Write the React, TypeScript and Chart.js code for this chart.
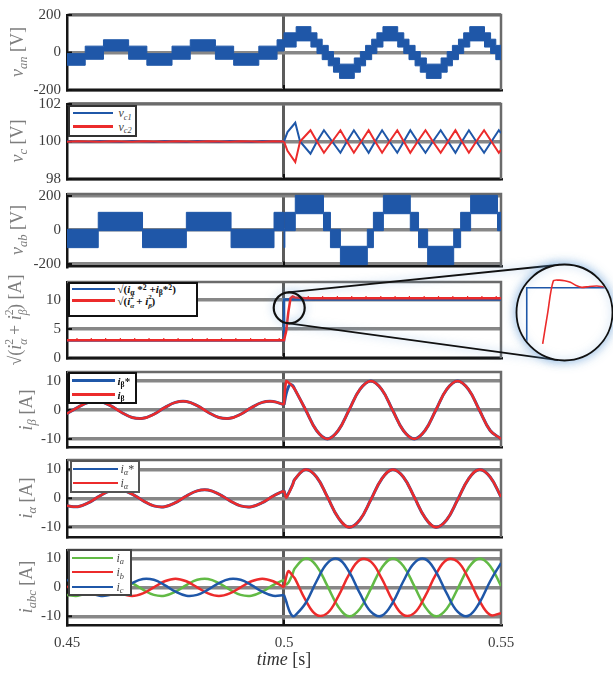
import React, { useEffect, useRef } from 'react';
import { Chart, registerables } from 'chart.js';
Chart.register(...registerables);

const W = 613;
const H = 675;
const PLOT_LEFT = 67;
const PLOT_RIGHT = 501;
const X_AXIS_H = 36;
const SERIF = "'Liberation Serif', 'DejaVu Serif', serif";
const BLUE = '#1f57a8';
const RED = '#ec2b2b';
const GREEN = '#62ba45';
const GRID = '#878787';
const TICK_COLOR = '#3c3c3c';

// ---------- x axis ----------
const X_TICKS = [0.45, 0.5, 0.55];
const X_TICK_LABELS = ['0.45', '0.5', '0.55'];

// ---------- common time bases ----------
const T_PRE = [0.45, 0.4525, 0.455, 0.4575, 0.46, 0.4625, 0.465, 0.4675, 0.47, 0.4725, 0.475, 0.4775, 0.48, 0.4825, 0.485, 0.4875, 0.49, 0.4925, 0.495, 0.4975, 0.5];
const T_POST = [0.5, 0.5005, 0.501, 0.5015, 0.502, 0.5025, 0.505, 0.5075, 0.51, 0.5125, 0.515, 0.5175, 0.52, 0.5225, 0.525, 0.5275, 0.53, 0.5325, 0.535, 0.5375, 0.54, 0.5425, 0.545, 0.5475, 0.55];

// ---------- v_an (switching band: upper / lower envelope) ----------
const V_AN_T = [0.45, 0.4542, 0.4584, 0.4642, 0.4684, 0.4742, 0.4784, 0.4842, 0.4884, 0.4942, 0.4984, 0.5, 0.5028, 0.5062, 0.5076, 0.5088, 0.5102, 0.5114, 0.5128, 0.5162, 0.5176, 0.5188, 0.5202, 0.5214, 0.5228, 0.5262, 0.5276, 0.5288, 0.5302, 0.5314, 0.5328, 0.5362, 0.5376, 0.5388, 0.5402, 0.5414, 0.5428, 0.5462, 0.5476, 0.5488, 0.55];
const V_AN_HI = [-6, 34, 68, 34, -6, 34, 68, 34, -6, 34, 68, 105, 138, 105, 71, 38, 5, -29, -62, -29, 5, 38, 71, 105, 138, 105, 71, 38, 5, -29, -62, -29, 5, 38, 71, 105, 138, 105, 71, 38, 38];
const V_AN_LO = [-68, -36, 8, -36, -68, -36, 8, -36, -68, -36, 8, 29, 62, 29, -5, -38, -71, -105, -138, -105, -71, -38, -5, 29, 62, 29, -5, -38, -71, -105, -138, -105, -71, -38, -5, 29, 62, 29, -5, -38, -38];

// ---------- v_c ----------
const V_C1_PRE = [100.02, 100.0, 99.98, 100.02, 100.0, 99.98, 100.02, 100.0, 99.98, 100.02, 100.0, 99.98, 100.02, 100.0, 99.98, 100.02, 100.0, 99.98, 100.02, 100.0, 100.0];
const V_C2_PRE = [99.99, 100.01, 100.0, 99.99, 100.01, 100.0, 99.99, 100.01, 100.0, 99.99, 100.01, 100.0, 99.99, 100.01, 100.0, 99.99, 100.01, 100.0, 99.99, 100.01, 100.0];
const T_VC_POST = [0.5, 0.5008, 0.5026, 0.5037, 0.5061, 0.5076, 0.5092, 0.5111, 0.513, 0.5145, 0.5161, 0.5178, 0.5195, 0.521, 0.5226, 0.5243, 0.5261, 0.5276, 0.5291, 0.5308, 0.5326, 0.5343, 0.5361, 0.5378, 0.5395, 0.541, 0.5426, 0.5443, 0.5461, 0.5478, 0.5495, 0.55];
const V_C1_POST = [100, 100.5, 101.0, 100.0, 99.35, 100.0, 100.6, 100.0, 99.4, 100.0, 100.6, 100.0, 99.4, 100.0, 100.6, 100.0, 99.4, 100.0, 100.6, 100.0, 99.4, 100.0, 100.6, 100.0, 99.4, 100.0, 100.6, 100.0, 99.4, 100.0, 100.6, 100.45];
const V_C2_POST = [100, 99.5, 98.9, 100.0, 100.6, 100.0, 99.4, 100.0, 100.6, 100.0, 99.4, 100.0, 100.6, 100.0, 99.4, 100.0, 100.6, 100.0, 99.4, 100.0, 100.6, 100.0, 99.4, 100.0, 100.6, 100.0, 99.4, 100.0, 100.6, 100.0, 99.4, 99.55];

// ---------- v_ab (switching band) ----------
const V_AB_T = [0.45, 0.4572, 0.4674, 0.4775, 0.4878, 0.4977, 0.5, 0.5002, 0.5026, 0.5091, 0.5107, 0.513, 0.5192, 0.5206, 0.5229, 0.5291, 0.531, 0.5331, 0.5391, 0.5407, 0.543, 0.5492, 0.55];
const V_AB_HI = [4, 104, 4, 104, 4, 104, 4, 104, 204, 104, 4, -96, 4, 104, 204, 104, 4, -96, 4, 104, 204, 104, 104];
const V_AB_LO = [-104, -4, -104, -4, -104, -4, -104, -4, 96, -4, -104, -204, -104, -4, 96, -4, -104, -204, -104, -4, 96, -4, -4];

// ---------- current magnitude ----------
const SQRT_REF_PRE = [3.0, 3.0, 3.0, 3.0, 3.0, 3.0, 3.0, 3.0, 3.0, 3.0, 3.0, 3.0, 3.0, 3.0, 3.0, 3.0, 3.0, 3.0, 3.0, 3.0, 3.0];
const SQRT_REF_POST = [10.1, 10.1, 10.1, 10.1, 10.1, 10.1, 10.1, 10.1, 10.1, 10.1, 10.1, 10.1, 10.1, 10.1, 10.1, 10.1, 10.1, 10.1, 10.1, 10.1, 10.1, 10.1, 10.1, 10.1, 10.1];
const SQRT_MEAS_PRE = [3.05, 3.05, 3.06, 3.05, 3.05, 3.06, 3.05, 3.05, 3.06, 3.05, 3.05, 3.06, 3.05, 3.05, 3.06, 3.05, 3.05, 3.06, 3.05, 3.05, 3.05];
const SQRT_MEAS_POST = [3.05, 4.6, 7.9, 10.3, 10.6, 10.45, 10.3, 10.3, 10.32, 10.3, 10.3, 10.32, 10.3, 10.3, 10.32, 10.3, 10.3, 10.32, 10.3, 10.3, 10.32, 10.3, 10.3, 10.32, 10.3];
// small 300 Hz ripple peaks on the measured magnitude
const SQRT_RIPPLE_T = [0.4523, 0.4556, 0.4589, 0.4623, 0.4656, 0.4689, 0.4723, 0.4756, 0.4789, 0.4823, 0.4856, 0.4889, 0.4923, 0.4956, 0.4989, 0.5056, 0.5089, 0.5123, 0.5156, 0.5189, 0.5223, 0.5256, 0.5289, 0.5323, 0.5356, 0.5389, 0.5423, 0.5456, 0.5489];
const SQRT_RIPPLE_V = [3.2, 3.2, 3.2, 3.2, 3.2, 3.2, 3.2, 3.2, 3.2, 3.2, 3.2, 3.2, 3.2, 3.2, 3.2, 10.45, 10.45, 10.45, 10.45, 10.45, 10.45, 10.45, 10.45, 10.45, 10.45, 10.45, 10.45, 10.45, 10.45];

// zoomed inset of the step
const INSET_T_REF = [0.5, 0.5, 0.5046];
const INSET_REF = [6.9, 10.03, 10.03];
const INSET_T = [0.50084, 0.5011, 0.5014, 0.5017, 0.502, 0.5023, 0.5026, 0.5029, 0.5033, 0.5037, 0.5041, 0.5046];
const INSET_MEAS = [6.9, 8.6, 10.4, 10.45, 10.42, 10.33, 10.15, 10.05, 10.1, 10.12, 10.08, 10.1];

// ---------- i_beta ----------
const I_BETA_PRE = [-1.3, 0.9, 2.6, 2.9, 1.5, -0.8, -2.6, -2.9, -1.5, 0.8, 2.6, 2.9, 1.5, -0.8, -2.6, -2.9, -1.5, 0.8, 2.6, 2.9, 1.8];
const I_BETA_REF_PRE = [-1.3, 0.9, 2.6, 2.9, 1.5, -0.8, -2.6, -2.9, -1.5, 0.8, 2.6, 2.9, 1.5, -0.8, -2.6, -2.9, -1.5, 0.8, 2.6, 2.9, 1.8];
const I_BETA_POST = [1.8, 9.9, 9.5, 8.9, 8.1, 7.1, 0, -7.1, -10, -7.1, 0, 7.1, 10, 7.1, 0, -7.1, -10, -7.1, 0, 7.1, 10, 7.1, 0, -7.1, -10];
const I_BETA_REF_POST = [1.8, 5.6, 7.9, 8.8, 8.4, 7.1, 0, -7.1, -10, -7.1, 0, 7.1, 10, 7.1, 0, -7.1, -10, -7.1, 0, 7.1, 10, 7.1, 0, -7.1, -10];

// ---------- i_alpha ----------
const I_ALPHA_PRE = [-2.6, -2.9, -1.5, 0.8, 2.6, 2.9, 1.5, -0.8, -2.6, -2.9, -1.5, 0.8, 2.6, 2.9, 1.5, -0.8, -2.6, -2.9, -1.5, 0.8, 2.6];
const I_ALPHA_REF_PRE = [-2.6, -2.9, -1.5, 0.8, 2.6, 2.9, 1.5, -0.8, -2.6, -2.9, -1.5, 0.8, 2.6, 2.9, 1.5, -0.8, -2.6, -2.9, -1.5, 0.8, 2.6];
const I_ALPHA_POST = [2.6, 0.3, 1.5, 3.0, 4.7, 6.6, 10, 7.4, 0.5, -6.7, -10, -7.4, -0.5, 6.7, 10, 7.4, 0.5, -6.7, -10, -7.4, -0.5, 6.7, 10, 7.4, 0.5];
const I_ALPHA_REF_POST = [2.6, 0.5, 1.7, 3.2, 4.8, 6.6, 10, 7.4, 0.5, -6.7, -10, -7.4, -0.5, 6.7, 10, 7.4, 0.5, -6.7, -10, -7.4, -0.5, 6.7, 10, 7.4, 0.5];

// ---------- i_abc ----------
const IA_PRE = [-2.6, -2.9, -1.5, 0.8, 2.6, 2.9, 1.5, -0.8, -2.6, -2.9, -1.5, 0.8, 2.6, 2.9, 1.5, -0.8, -2.6, -2.9, -1.5, 0.8, 2.6];
const IA_POST = [2.6, 1.0, 1.6, 3.0, 4.7, 6.6, 10, 7.4, 0.5, -6.7, -10, -7.4, -0.5, 6.7, 10, 7.4, 0.5, -6.7, -10, -7.4, -0.5, 6.7, 10, 7.4, 0.5];
const IB_PRE = [0, 2.1, 3, 2.1, 0, -2.1, -3, -2.1, 0, 2.1, 3, 2.1, 0, -2.1, -3, -2.1, 0, 2.1, 3, 2.1, 0];
const IB_POST = [0, 3.5, 5.6, 5.0, 4.0, 3.1, -4.5, -9.5, -8.9, -3.1, 4.5, 9.5, 8.9, 3.1, -4.5, -9.5, -8.9, -3.1, 4.5, 9.5, 8.9, 3.1, -4.5, -9.5, -8.9];
const IC_PRE = [2.6, 0.8, -1.5, -2.9, -2.6, -0.8, 1.5, 2.9, 2.6, 0.8, -1.5, -2.9, -2.6, -0.8, 1.5, 2.9, 2.6, 0.8, -1.5, -2.9, -2.6];
const IC_POST = [-2.6, -4.8, -7.2, -9.0, -9.9, -9.8, -5.4, 2.1, 8.4, 9.8, 5.4, -2.1, -8.4, -9.8, -5.4, 2.1, 8.4, 9.8, 5.4, -2.1, -8.4, -9.8, -5.4, 2.1, 8.4];

// ---------- magnifier geometry (decoration) ----------
const MAG = { t: 0.5012, v: 8.65, r: 15.5 };
const INSET = { cx: 564.5, cy: 312.5, r: 48 };

// ---------- helpers ----------
const pts = (xs: number[], ys: number[]) => xs.map((x, i) => ({ x, y: ys[i] }));
const line = (xs: number[], ys: number[], color: string, width = 2.5, tension = 0.4) => ({
  data: pts(xs, ys), borderColor: color, backgroundColor: color, borderWidth: width,
  pointRadius: 0, tension, fill: false,
});
const band = (xs: number[], hi: number[], lo: number[], color: string) => [
  { data: pts(xs, hi), borderColor: color, backgroundColor: color, borderWidth: 1, pointRadius: 0, stepped: true, fill: '+1' },
  { data: pts(xs, lo), borderColor: color, backgroundColor: color, borderWidth: 1, pointRadius: 0, stepped: true, fill: false },
];
const bumps = (xs: number[], ys: number[], color: string) => ({
  data: pts(xs, ys), showLine: false, borderColor: color, backgroundColor: color, borderWidth: 1.2,
  pointStyle: 'line', pointRotation: 90, pointRadius: 1.4, fill: false,
});

type Panel = { top: number; bottom: number; min: number; max: number; ticks: number[]; showX?: boolean; magnifier?: boolean; datasets: () => any[] };

const PANELS: Panel[] = [
  { top: 15, bottom: 90, min: -200, max: 200, ticks: [-200, 0, 200], datasets: () => band(V_AN_T, V_AN_HI, V_AN_LO, BLUE) },
  {
    top: 104, bottom: 179, min: 98, max: 102, ticks: [98, 100, 102], datasets: () => [
      line(T_PRE, V_C2_PRE, RED, 2, 0), line(T_VC_POST, V_C2_POST, RED, 2, 0),
      line(T_PRE, V_C1_PRE, BLUE, 2, 0), line(T_VC_POST, V_C1_POST, BLUE, 2, 0),
    ],
  },
  { top: 194, bottom: 266.5, min: -215, max: 212, ticks: [-200, 0, 200], datasets: () => band(V_AB_T, V_AB_HI, V_AB_LO, BLUE) },
  {
    top: 282, bottom: 358, min: 0, max: 13.1, ticks: [0, 5, 10], magnifier: true, datasets: () => [
      bumps(SQRT_RIPPLE_T, SQRT_RIPPLE_V, RED),
      line([...T_PRE, ...T_POST], [...SQRT_MEAS_PRE, ...SQRT_MEAS_POST], RED, 2.5, 0),
      line([...T_PRE, ...T_POST], [...SQRT_REF_PRE, ...SQRT_REF_POST], BLUE, 2.5, 0),
    ],
  },
  {
    top: 372, bottom: 447, min: -12.8, max: 13.1, ticks: [-10, 0, 10], datasets: () => [
      line(T_PRE, I_BETA_PRE, RED), line(T_POST, I_BETA_POST, RED),
      line(T_PRE, I_BETA_REF_PRE, BLUE, 3), line(T_POST, I_BETA_REF_POST, BLUE, 3),
    ],
  },
  {
    top: 460, bottom: 537, min: -13.4, max: 13.3, ticks: [-10, 0, 10], datasets: () => [
      line(T_PRE, I_ALPHA_PRE, RED), line(T_POST, I_ALPHA_POST, RED),
      line(T_PRE, I_ALPHA_REF_PRE, BLUE, 3), line(T_POST, I_ALPHA_REF_POST, BLUE, 3),
    ],
  },
  {
    top: 550, bottom: 625, min: -13, max: 12.9, ticks: [-10, 0, 10], showX: true, datasets: () => [
      line(T_PRE, IC_PRE, BLUE), line(T_POST, IC_POST, BLUE),
      line(T_PRE, IB_PRE, RED), line(T_POST, IB_POST, RED),
      line(T_PRE, IA_PRE, GREEN), line(T_POST, IA_POST, GREEN),
    ],
  },
];

const framePlugin = (p: Panel) => ({
  id: 'frame',
  beforeDatasetsDraw(chart: any) {
    const { ctx, chartArea: a } = chart;
    ctx.save();
    ctx.strokeStyle = '#6b6b6b';
    ctx.lineWidth = 2.5;
    ctx.beginPath();
    ctx.moveTo(a.left, a.top);
    ctx.lineTo(a.right, a.top);
    ctx.lineTo(a.right, a.bottom);
    ctx.stroke();
    ctx.strokeStyle = '#111';
    ctx.lineWidth = 2;
    ctx.beginPath();
    const x5 = chart.scales.x.getPixelForValue(0.5);
    ctx.moveTo(x5, a.bottom);
    ctx.lineTo(x5, a.bottom - 5);
    for (const t of p.ticks) {
      const y = chart.scales.y.getPixelForValue(t);
      ctx.moveTo(a.left, y);
      ctx.lineTo(a.left + 5, y);
    }
    ctx.stroke();
    ctx.restore();
  },
});

const magnifierPlugin = {
  id: 'magnifier',
  afterDatasetsDraw(chart: any) {
    const { ctx } = chart;
    const x1 = chart.scales.x.getPixelForValue(MAG.t);
    const y1 = chart.scales.y.getPixelForValue(MAG.v);
    const r1 = MAG.r;
    const { cx: x2, cy: y2, r: r2 } = INSET;
    const d = Math.hypot(x2 - x1, y2 - y1);
    const phi = Math.atan2(y2 - y1, x2 - x1);
    const beta = Math.acos((r1 - r2) / d);
    ctx.save();
    ctx.strokeStyle = '#111';
    ctx.shadowColor = 'rgba(90,150,210,0.6)';
    ctx.shadowBlur = 8;
    ctx.lineWidth = 1.8;
    for (const s of [1, -1]) {
      const ang = phi + s * beta;
      ctx.beginPath();
      ctx.moveTo(x1 + r1 * Math.cos(ang), y1 + r1 * Math.sin(ang));
      ctx.lineTo(x2 + r2 * Math.cos(ang), y2 + r2 * Math.sin(ang));
      ctx.stroke();
    }
    ctx.lineWidth = 2.2;
    ctx.beginPath();
    ctx.arc(x1, y1, r1, 0, Math.PI * 2);
    ctx.stroke();
    ctx.restore();
  },
};

const insetPlugin = {
  id: 'inset',
  beforeDatasetsDraw(chart: any) {
    const { ctx } = chart;
    const { cx, cy, r } = INSET;
    ctx.save();
    ctx.shadowColor = 'rgba(90,150,210,0.7)';
    ctx.shadowBlur = 12;
    ctx.fillStyle = '#fff';
    ctx.beginPath();
    ctx.arc(cx, cy, r, 0, Math.PI * 2);
    ctx.fill();
    ctx.restore();
    ctx.save();
    ctx.beginPath();
    ctx.arc(cx, cy, r - 1, 0, Math.PI * 2);
    ctx.clip();
  },
  afterDatasetsDraw(chart: any) {
    const { ctx } = chart;
    const { cx, cy, r } = INSET;
    ctx.restore();
    ctx.save();
    ctx.strokeStyle = '#111';
    ctx.lineWidth = 1.8;
    ctx.shadowColor = 'rgba(90,150,210,0.6)';
    ctx.shadowBlur = 8;
    ctx.beginPath();
    ctx.arc(cx, cy, r, 0, Math.PI * 2);
    ctx.stroke();
    ctx.restore();
  },
};

function panelConfig(p: Panel): any {
  const xh = p.showX ? X_AXIS_H : 0;
  return {
    type: 'line',
    data: { datasets: p.datasets() },
    options: {
      animation: false,
      responsive: false,
      maintainAspectRatio: false,
      devicePixelRatio: 1,
      events: [],
      layout: { autoPadding: false, padding: { left: 0, right: W - PLOT_RIGHT, top: p.top, bottom: H - p.bottom - xh } },
      plugins: { legend: { display: false }, tooltip: { enabled: false } },
      scales: {
        x: {
          type: 'linear', min: 0.45, max: 0.55, bounds: 'data',
          afterFit: (s: any) => { s.height = xh; },
          afterBuildTicks: (s: any) => { s.ticks = X_TICKS.map((v) => ({ value: v })); },
          grid: { color: (c: any) => (c.tick && c.tick.value === 0.5 ? '#5c5c5c' : 'rgba(0,0,0,0)'), lineWidth: 3, drawTicks: false },
          border: { display: true, color: '#161616', width: 2.5 },
          ticks: {
            display: !!p.showX, padding: 9, color: TICK_COLOR, maxRotation: 0, autoSkip: false,
            font: { family: SERIF, size: 15 },
            callback: (v: number) => X_TICK_LABELS[X_TICKS.indexOf(v)] ?? '',
          },
        },
        y: {
          type: 'linear', min: p.min, max: p.max, bounds: 'data',
          afterFit: (s: any) => { s.width = PLOT_LEFT; },
          afterBuildTicks: (s: any) => { s.ticks = p.ticks.map((v) => ({ value: v })); },
          grid: { color: GRID, lineWidth: 3.5, drawTicks: false },
          border: { display: true, color: '#161616', width: 2.5 },
          ticks: { padding: 6, color: TICK_COLOR, autoSkip: false, font: { family: SERIF, size: 15 }, callback: (v: number) => String(v) },
        },
      },
    },
    plugins: p.magnifier ? [framePlugin(p), magnifierPlugin] : [framePlugin(p)],
  };
}

function insetConfig(): any {
  return {
    type: 'line',
    data: {
      datasets: [
        line(INSET_T, INSET_MEAS, RED, 1.6, 0.3),
        line(INSET_T_REF, INSET_REF, BLUE, 1.6, 0),
      ],
    },
    options: {
      animation: false,
      responsive: false,
      maintainAspectRatio: false,
      devicePixelRatio: 1,
      events: [],
      layout: {
        autoPadding: false,
        padding: { left: INSET.cx - INSET.r, top: INSET.cy - INSET.r, right: W - (INSET.cx + INSET.r), bottom: H - (INSET.cy + INSET.r) },
      },
      plugins: { legend: { display: false }, tooltip: { enabled: false } },
      scales: {
        x: { type: 'linear', display: false, min: 0.49946, max: 0.50452, bounds: 'data' },
        y: { type: 'linear', display: false, min: 5.98, max: 11.32, bounds: 'data' },
      },
    },
    plugins: [insetPlugin],
  };
}

// ---------- text helpers ----------
const Sub = ({ children }: any) => (
  <span style={{ fontSize: '0.7em', position: 'relative', top: '0.3em', lineHeight: 0 }}>{children}</span>
);
const Sup = ({ children }: any) => (
  <span style={{ fontSize: '0.7em', position: 'relative', top: '-0.45em', lineHeight: 0 }}>{children}</span>
);
const SubSup = ({ sub, sup }: any) => (
  <span style={{ display: 'inline-block', position: 'relative', width: '0.45em', height: '1em', fontSize: '0.65em' }}>
    <span style={{ position: 'absolute', left: 0, top: '-0.45em', lineHeight: 1 }}>{sup}</span>
    <span style={{ position: 'absolute', left: 0, top: '0.75em', lineHeight: 1, fontStyle: 'italic' }}>{sub}</span>
  </span>
);

const RotLabel = ({ cx, cy, children }: any) => (
  <div style={{
    position: 'absolute', left: cx, top: cy, transform: 'translate(-50%, -50%) rotate(-90deg)',
    whiteSpace: 'nowrap', fontFamily: SERIF, fontSize: 18, color: '#7d7d7d', lineHeight: 1,
  }}>{children}</div>
);

type Row = { y: number; color: string; label: any };
const Legend = ({ box, bw, borderColor, lineX, textX, rows, font }: any) => (
  <div style={{
    position: 'absolute', left: box[0], top: box[1], width: box[2], height: box[3],
    border: `${bw}px solid ${borderColor}`, boxSizing: 'border-box', background: '#fff',
  }}>
    {rows.map((r: Row, i: number) => (
      <React.Fragment key={i}>
        <div style={{ position: 'absolute', left: lineX[0] - box[0] - bw, top: r.y - box[1] - bw - 1.25, width: lineX[1] - lineX[0], height: 2.5, background: r.color }} />
        <div style={{ position: 'absolute', left: textX - box[0] - bw, top: r.y - box[1] - bw, transform: 'translateY(-50%)', whiteSpace: 'nowrap', lineHeight: 1, ...font }}>{r.label}</div>
      </React.Fragment>
    ))}
  </div>
);

const LEG_ITALIC = { fontFamily: SERIF, fontSize: 12, fontStyle: 'italic', color: '#444' };
const LEG_BOLD = { fontFamily: SERIF, fontSize: 11, fontWeight: 'bold', color: '#111' };

export default function App() {
  const refs = useRef<(HTMLCanvasElement | null)[]>([]);

  useEffect(() => {
    const charts: any[] = [];
    PANELS.forEach((p, i) => {
      const c = refs.current[i];
      if (c) charts.push(new Chart(c, panelConfig(p)));
    });
    const ic = refs.current[PANELS.length];
    if (ic) charts.push(new Chart(ic, insetConfig()));
    return () => charts.forEach((c) => c.destroy());
  }, []);

  return (
    <div style={{ position: 'absolute', left: 0, top: 0, width: W, height: H, background: '#fff', overflow: 'hidden' }}>
      {[...PANELS, null].map((_, i) => (
        <canvas key={i} ref={(el) => { refs.current[i] = el; }} width={W} height={H} style={{ position: 'absolute', left: 0, top: 0 }} />
      ))}

      <RotLabel cx={17} cy={52}><i>v</i><Sub><i>an</i></Sub> [V]</RotLabel>
      <RotLabel cx={17} cy={141}><i>v</i><Sub><i>c</i></Sub> [V]</RotLabel>
      <RotLabel cx={17} cy={230}><i>v</i><Sub><i>ab</i></Sub> [V]</RotLabel>
      <RotLabel cx={15} cy={320}>√(<i>i</i><SubSup sup="2" sub="α" /> + <i>i</i><SubSup sup="2" sub="β" />) [A]</RotLabel>
      <RotLabel cx={26} cy={410}><i>i</i><Sub><i>β</i></Sub> [A]</RotLabel>
      <RotLabel cx={26} cy={498}><i>i</i><Sub><i>α</i></Sub> [A]</RotLabel>
      <RotLabel cx={26} cy={587}><i>i</i><Sub><i>abc</i></Sub> [A]</RotLabel>

      <Legend box={[68, 105, 69, 32]} bw={2.5} borderColor="#333" lineX={[73, 113]} textX={119} font={LEG_ITALIC}
        rows={[
          { y: 113.5, color: BLUE, label: <span>v<Sub>c1</Sub></span> },
          { y: 127, color: RED, label: <span>v<Sub>c2</Sub></span> },
        ]} />
      <Legend box={[68, 282, 130, 35]} bw={2.5} borderColor="#111" lineX={[72, 115]} textX={118} font={LEG_BOLD}
        rows={[
          { y: 289.5, color: BLUE, label: <span>√(<i>i</i><Sub>α</Sub> *<Sup>2</Sup> +<i>i</i><Sub>β</Sub>*<Sup>2</Sup>)</span> },
          { y: 301, color: RED, label: <span>√(<i>i</i><SubSup sup="2" sub="α" /> + <i>i</i><SubSup sup="2" sub="β" />)</span> },
        ]} />
      <Legend box={[68, 372, 69, 32]} bw={2.5} borderColor="#111" lineX={[72, 115]} textX={118} font={LEG_BOLD}
        rows={[
          { y: 381, color: BLUE, label: <span><i>i</i><Sub>β</Sub>*</span> },
          { y: 395, color: RED, label: <span><i>i</i><Sub>β</Sub></span> },
        ]} />
      <Legend box={[70, 460, 70, 33]} bw={2.5} borderColor="#555" lineX={[73, 118]} textX={121} font={LEG_ITALIC}
        rows={[
          { y: 469.3, color: BLUE, label: <span>i<Sub>α</Sub><span style={{ fontStyle: 'normal' }}>*</span></span> },
          { y: 483.3, color: RED, label: <span>i<Sub>α</Sub></span> },
        ]} />
      <Legend box={[68, 549, 64, 47]} bw={2.5} borderColor="#444" lineX={[72, 113]} textX={117} font={LEG_ITALIC}
        rows={[
          { y: 558.3, color: GREEN, label: <span>i<Sub>a</Sub></span> },
          { y: 572.7, color: RED, label: <span>i<Sub>b</Sub></span> },
          { y: 587.3, color: BLUE, label: <span>i<Sub>c</Sub></span> },
        ]} />

      <div style={{
        position: 'absolute', left: 284, top: 659, transform: 'translate(-50%, -50%)', whiteSpace: 'nowrap',
        fontFamily: SERIF, fontSize: 18, color: '#333', lineHeight: 1,
      }}><i>time</i> [s]</div>
    </div>
  );
}
